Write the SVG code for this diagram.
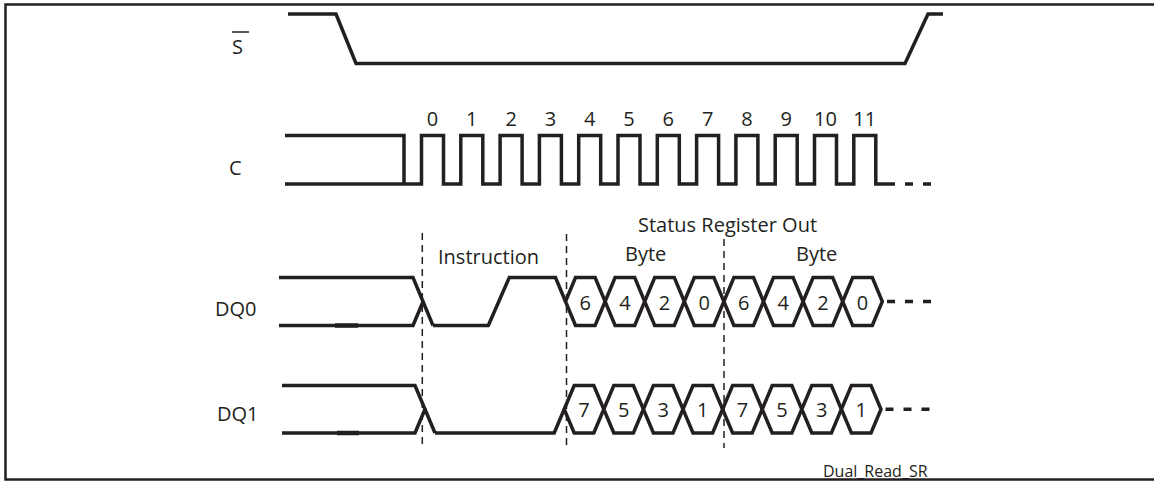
<svg xmlns="http://www.w3.org/2000/svg" width="1154" height="481" viewBox="0 0 1154 481">
<style>
  .sig { fill: none; stroke: #231f20; stroke-width: 3.5; stroke-linejoin: miter; stroke-linecap: butt; }
  .hex { fill: #ffffff; stroke: #231f20; stroke-width: 3.5; stroke-linejoin: miter; }
  .dots { fill: none; stroke: #231f20; stroke-width: 3.5; stroke-dasharray: 8 10; }
  .guide { fill: none; stroke: #231f20; stroke-width: 1.5; stroke-dasharray: 7 5; }
  .lbl { font-family: "Open Sans", "Noto Sans", "Liberation Sans", sans-serif; font-size: 20px; fill: #231f20; }
  .num { font-family: "Open Sans", "Noto Sans", "Liberation Sans", sans-serif; font-size: 20px; fill: #231f20; text-anchor: middle; }
  .small { font-family: "Open Sans", "Noto Sans", "Liberation Sans", sans-serif; font-size: 16px; fill: #231f20; }
</style>
<rect x="0" y="0" width="1154" height="481" fill="#ffffff"/>
<rect x="5.5" y="4.5" width="1152" height="475" fill="none" stroke="#231f20" stroke-width="2.5"/>

<g id="sig-S">
  <text class="lbl" x="232" y="54">S</text>
  <line x1="232" y1="32" x2="249" y2="32" stroke="#231f20" stroke-width="1.5"/>
  <path class="sig" d="M288,14 H336 L356,63.5 H905 L928,14 H943"/>
</g>

<g id="sig-C">
  <text class="lbl" x="229" y="175">C</text>
  <path class="sig" d="M285,135.5 H404 V184"/>
  <path class="sig" d="M285,184 H421.5 V135.5 H443.5 V184 H460.8 V135.5 H482.8 V184 H500.1 V135.5 H522.1 V184 H539.4 V135.5 H561.4 V184 H578.7 V135.5 H600.7 V184 H618 V135.5 H640 V184 H657.3 V135.5 H679.3 V184 H696.6 V135.5 H718.6 V184 H735.9 V135.5 H757.9 V184 H775.2 V135.5 H797.2 V184 H814.5 V135.5 H836.5 V184 H853.8 V135.5 H875.8 V184 H887"/>
  <path class="dots" d="M887,184 H932"/>
  <g>
    <text class="num" x="432.5" y="126">0</text>
    <text class="num" x="471.8" y="126">1</text>
    <text class="num" x="511.1" y="126">2</text>
    <text class="num" x="550.4" y="126">3</text>
    <text class="num" x="589.7" y="126">4</text>
    <text class="num" x="629" y="126">5</text>
    <text class="num" x="668.3" y="126">6</text>
    <text class="num" x="707.6" y="126">7</text>
    <text class="num" x="746.9" y="126">8</text>
    <text class="num" x="786.2" y="126">9</text>
    <text class="num" x="825.5" y="126">10</text>
    <text class="num" x="864.8" y="126">11</text>
  </g>
</g>

<g id="sig-DQ0">
  <text class="lbl" x="215" y="316">DQ0</text>
  <path class="sig" d="M279,277.5 H413 L433,325.5"/>
  <path class="sig" d="M279,325.5 H413 L423.5,300.5"/>
  <line x1="335" y1="325.5" x2="358" y2="325.5" stroke="#231f20" stroke-width="4.5"/>
  <path class="sig" d="M433,325.5 H488.3 L509.3,277.5 H555.5 L565.5,301.5"/>
  <polygon class="hex" points="565.5,301.5 575.5,277.5 595.1,277.5 605.1,301.5 595.1,325.5 575.5,325.5"/>
  <polygon class="hex" points="605.1,301.5 615.1,277.5 634.7,277.5 644.7,301.5 634.7,325.5 615.1,325.5"/>
  <polygon class="hex" points="644.7,301.5 654.7,277.5 674.3,277.5 684.3,301.5 674.3,325.5 654.7,325.5"/>
  <polygon class="hex" points="684.3,301.5 694.3,277.5 713.9,277.5 723.9,301.5 713.9,325.5 694.3,325.5"/>
  <polygon class="hex" points="723.9,301.5 733.9,277.5 753.5,277.5 763.5,301.5 753.5,325.5 733.9,325.5"/>
  <polygon class="hex" points="763.5,301.5 773.5,277.5 793.1,277.5 803.1,301.5 793.1,325.5 773.5,325.5"/>
  <polygon class="hex" points="803.1,301.5 813.1,277.5 832.7,277.5 842.7,301.5 832.7,325.5 813.1,325.5"/>
  <polygon class="hex" points="842.7,301.5 852.7,277.5 872.3,277.5 882.3,301.5 872.3,325.5 852.7,325.5"/>
  <path class="dots" d="M887,301.5 H932"/>
  <text class="num" x="585.3" y="309.5">6</text>
  <text class="num" x="624.9" y="309.5">4</text>
  <text class="num" x="664.5" y="309.5">2</text>
  <text class="num" x="704.1" y="309.5">0</text>
  <text class="num" x="743.7" y="309.5">6</text>
  <text class="num" x="783.3" y="309.5">4</text>
  <text class="num" x="822.9" y="309.5">2</text>
  <text class="num" x="862.5" y="309.5">0</text>
</g>

<g id="sig-DQ1">
  <text class="lbl" x="217" y="421">DQ1</text>
  <path class="sig" d="M282,385.5 H415 L435,433"/>
  <path class="sig" d="M282,433 H415 L425.5,408"/>
  <line x1="337" y1="433" x2="359" y2="433" stroke="#231f20" stroke-width="4.5"/>
  <path class="sig" d="M435,433 H554.2 L564.2,409.25"/>
  <polygon class="hex" points="564.2,409.25 574.2,385.5 593.8,385.5 603.8,409.25 593.8,433 574.2,433"/>
  <polygon class="hex" points="603.8,409.25 613.8,385.5 633.4,385.5 643.4,409.25 633.4,433 613.8,433"/>
  <polygon class="hex" points="643.4,409.25 653.4,385.5 673,385.5 683,409.25 673,433 653.4,433"/>
  <polygon class="hex" points="683,409.25 693,385.5 712.6,385.5 722.6,409.25 712.6,433 693,433"/>
  <polygon class="hex" points="722.6,409.25 732.6,385.5 752.2,385.5 762.2,409.25 752.2,433 732.6,433"/>
  <polygon class="hex" points="762.2,409.25 772.2,385.5 791.8,385.5 801.8,409.25 791.8,433 772.2,433"/>
  <polygon class="hex" points="801.8,409.25 811.8,385.5 831.4,385.5 841.4,409.25 831.4,433 811.8,433"/>
  <polygon class="hex" points="841.4,409.25 851.4,385.5 871,385.5 881,409.25 871,433 851.4,433"/>
  <path class="dots" d="M885.5,409.25 H930.5"/>
  <text class="num" x="584" y="417">7</text>
  <text class="num" x="623.6" y="417">5</text>
  <text class="num" x="663.2" y="417">3</text>
  <text class="num" x="702.8" y="417">1</text>
  <text class="num" x="742.4" y="417">7</text>
  <text class="num" x="782" y="417">5</text>
  <text class="num" x="821.6" y="417">3</text>
  <text class="num" x="861.2" y="417">1</text>
</g>

<g id="connectors">
  <line class="guide" x1="422.3" y1="233" x2="422.3" y2="448"/>
  <line class="guide" x1="566.5" y1="234" x2="566.5" y2="448"/>
  <line class="guide" x1="724" y1="239" x2="724" y2="448"/>
</g>

<g id="labels">
  <text class="lbl" x="438" y="264">Instruction</text>
  <text class="lbl" x="638" y="232">Status Register Out</text>
  <text class="lbl" x="625" y="261">Byte</text>
  <text class="lbl" x="796" y="261">Byte</text>
  <text class="small" x="823" y="477">Dual_Read_SR</text>
</g>
</svg>
